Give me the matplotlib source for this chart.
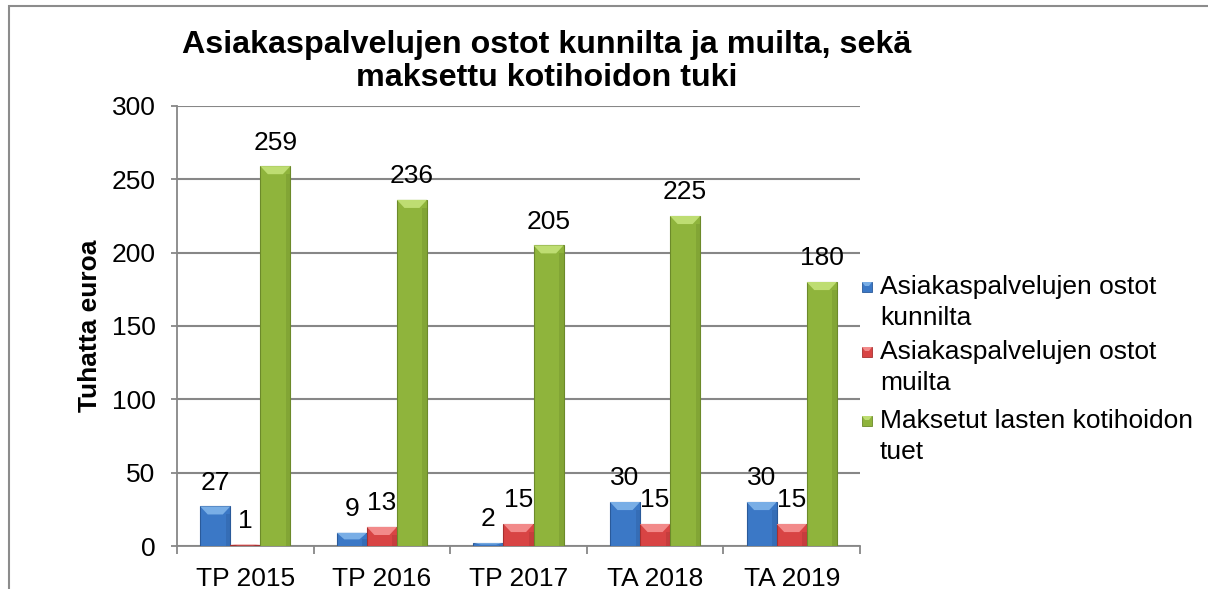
import numpy as np
import matplotlib
matplotlib.use('Agg')
import matplotlib.pyplot as plt
from matplotlib.patches import Polygon, Rectangle

plt.rcParams['font.family'] = ['Liberation Sans', 'DejaVu Sans']

categories = ['TP 2015', 'TP 2016', 'TP 2017', 'TA 2018', 'TA 2019']
series_names = ['Asiakaspalvelujen ostot\nkunnilta',
                'Asiakaspalvelujen ostot\nmuilta',
                'Maksetut lasten kotihoidon\ntuet']
kunnilta = [27, 9, 2, 30, 30]
muilta = [1, 13, 15, 15, 15]
kotihoito = [259, 236, 205, 225, 180]

title = 'Asiakaspalvelujen ostot kunnilta ja muilta, sekä\nmaksettu kotihoidon tuki'
ylabel = 'Tuhatta euroa'

# (main, top bevel, edge)
colors = [('#3b78c6', '#79aee6', '#2a5a9a'),
          ('#d84444', '#f28a8a', '#a63030'),
          ('#8fb43c', '#bedd72', '#6c8a2a')]

W, H = 1208, 589


def bevel_bars(ax, x, values, width, cols):
    main, light, edge = cols
    bars = ax.bar(x, values, width, color=main, edgecolor=edge, linewidth=0.8, zorder=3)
    for b in bars:
        x0 = b.get_x()
        x1 = x0 + b.get_width()
        top = b.get_height()
        bh = min(5.5, top * 0.5)
        bw = min(0.055, b.get_width() * 0.3)
        ax.add_patch(Polygon([(x0, top), (x1, top), (x1 - bw, top - bh), (x0 + bw, top - bh)],
                             closed=True, facecolor=light, edgecolor='none', zorder=4))
        # darker right side strip
        ax.add_patch(Rectangle((x1 - bw * 0.6, 0), bw * 0.6, max(top - bh, 0),
                               facecolor=edge, alpha=0.35, edgecolor='none', zorder=4))
    return bars


fig = plt.figure(figsize=(W / 100, H / 100), dpi=100)
# outer chart frame (continues beyond the picture on right and bottom)
fig.patches.append(Rectangle((9 / W, -0.2), 1.2, 1 - 6 / H + 0.2,
                             transform=fig.transFigure, fill=False,
                             edgecolor='#8c8c8c', linewidth=1.5))

ax = fig.add_axes([177 / W, 1 - 546 / H, 683 / W, 440 / H])

x = np.arange(len(categories))
w = 0.22
all_series = [kunnilta, muilta, kotihoito]
for i, vals in enumerate(all_series):
    xs = x + (i - 1) * w
    bevel_bars(ax, xs, vals, w, colors[i])
    for xi, v in zip(xs, vals):
        ax.annotate(str(v), (xi, v), xytext=(0, 17), textcoords='offset points',
                    ha='center', va='center', fontsize=19, zorder=5)

ax.set_xlim(-0.5, len(categories) - 0.5)
ax.set_ylim(0, 300)
ax.set_yticks(range(0, 301, 50))
ax.yaxis.grid(True, color='#878787', linewidth=1.5, zorder=0)
ax.set_axisbelow(True)

ax.set_xticks(x)
ax.set_xticklabels(categories)
ax.set_xticks(np.arange(-0.5, len(categories)), minor=True)
ax.tick_params(axis='x', which='major', length=0, labelsize=19, pad=15)
ax.tick_params(axis='x', which='minor', length=6, width=1.3, color='#878787')
ax.tick_params(axis='y', length=4.5, width=1.3, color='#878787', labelsize=19, pad=11)

for side in ['top', 'right']:
    ax.spines[side].set_visible(False)
for side in ['left', 'bottom']:
    ax.spines[side].set_color('#878787')
    ax.spines[side].set_linewidth(1.3)

ax.set_ylabel(ylabel, fontsize=19, fontweight='bold')
ax.yaxis.set_label_coords(-0.11, 0.5)

title_y = [45, 78]
for line, ty in zip(title.split('\n'), title_y):
    fig.text(547 / W, 1 - ty / H, line, ha='center', va='center',
             fontsize=23.2, fontweight='bold')

# legend, marker next to first line of each entry
leg_y = [287, 352, 421]
for i, name in enumerate(series_names):
    yc = 1 - leg_y[i] / H
    main, light, edge = colors[i]
    fig.patches.append(Rectangle((862 / W, yc - 5 / H), 10 / W, 10 / H,
                                 transform=fig.transFigure, facecolor=main,
                                 edgecolor=edge, linewidth=0.6))
    fig.patches.append(Polygon([(862 / W, yc + 5 / H), (872 / W, yc + 5 / H),
                                (869 / W, yc + 1 / H), (865 / W, yc + 1 / H)],
                               closed=True, transform=fig.transFigure,
                               facecolor=light, edgecolor='none'))
    for j, line in enumerate(name.split('\n')):
        fig.text(880 / W, yc - 31 * j / H, line, ha='left', va='center', fontsize=19)

fig.savefig('out.png', dpi=100)
